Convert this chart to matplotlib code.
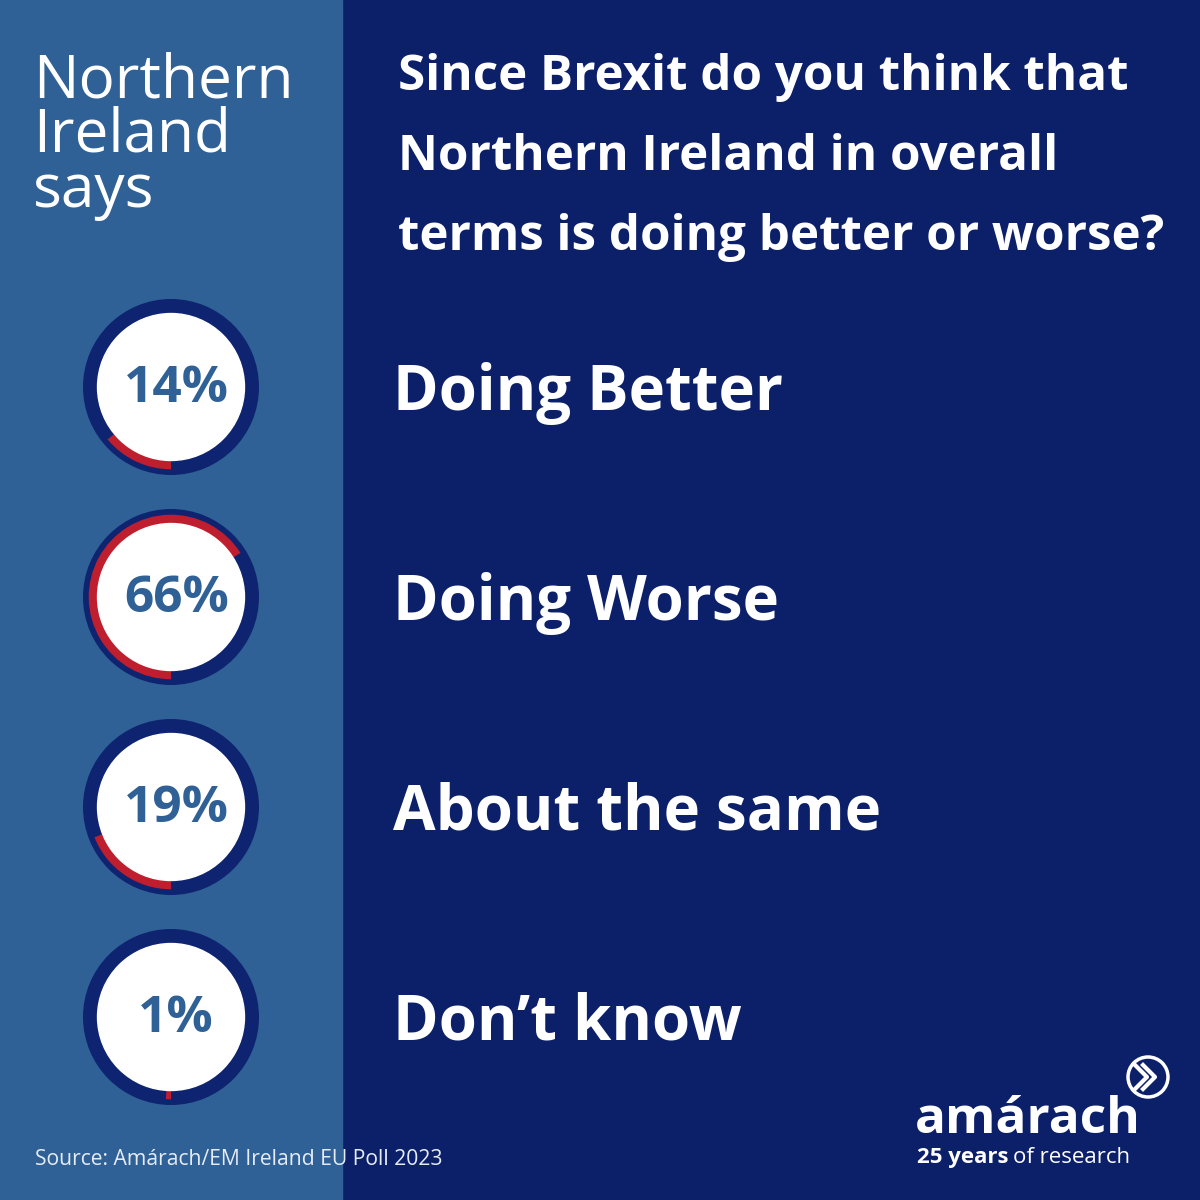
import matplotlib
matplotlib.use("Agg")
from matplotlib import pyplot as plt
from matplotlib.patches import Rectangle, Circle

# data
answers = ["Doing Better", "Doing Worse", "About the same", "Don\u2019t know"]
shares = [14, 66, 19, 1]
pct_labels = ["14%", "66%", "19%", "1%"]

title_lines = ["Since Brexit do you think that", "Northern Ireland in overall",
               "terms is doing better or worse?"]
side_lines = ["Northern", "Ireland", "says"]
source = "Source: Am\u00e1rach/EM Ireland EU Poll 2023"

# colours
steel = "#2f6096"
navy = "#0c206a"
ring = "#0e2470"
red = "#be1e2d"

plt.rcParams["font.family"] = ["Open Sans", "DejaVu Sans"]

fig = plt.figure(figsize=(12, 12), dpi=100)
bg = fig.add_axes([0, 0, 1, 1])
bg.set_xlim(0, 1200)
bg.set_ylim(1200, 0)
bg.axis("off")
bg.add_patch(Rectangle((0, 0), 1200, 1200, color=navy, zorder=0))
bg.add_patch(Rectangle((0, 0), 342, 1200, color=steel, zorder=1))

for k, line in enumerate(side_lines):
    bg.text(33, 97 + 55 * k, line, color="white", fontsize=43.5,
            va="baseline", ha="left")
for k, line in enumerate(title_lines):
    bg.text(398, 90 + 80 * k, line, color="white", fontsize=35.5,
            fontweight="bold", va="baseline", ha="left")
bg.text(35, 1165, source, color="#e6ecf5", fontsize=15.2, va="baseline")

# logo
bg.text(915, 1133, "am\u00e1rach", color="white", fontsize=37, fontweight="bold",
        va="baseline")
bg.text(917, 1163, "25 years", color="white", fontsize=16, fontweight="bold",
        va="baseline")
bg.text(1013, 1163, "of research", color="white", fontsize=16, va="baseline")
bg.add_patch(Circle((1148, 1077), 20, fill=False, ec="white", lw=2.5, zorder=3))
for dx in (-8, 0):
    bg.plot([1143 + dx, 1155 + dx, 1143 + dx], [1065, 1077, 1089],
            color="white", lw=3, zorder=3)

# donuts
centers_y = [387, 597, 807, 1017]
cx = 171
r_out = 88
for i, (ans, val, lab) in enumerate(zip(answers, shares, pct_labels)):
    cy = centers_y[i]
    ax = fig.add_axes([(cx - r_out) / 1200, 1 - (cy + r_out) / 1200,
                       2 * r_out / 1200, 2 * r_out / 1200])
    ax.pie([1], colors=[ring], radius=1.0, wedgeprops=dict(width=1.0))
    ax.pie([val, 100 - val], colors=[red, "none"], radius=0.935,
           startangle=270, counterclock=False,
           wedgeprops=dict(width=0.1, linewidth=0))
    ax.add_patch(Circle((0, 0), 0.835, color="white", zorder=5))
    ax.text(0.06, -0.02, lab, color=steel, fontsize=37, fontweight="bold",
            ha="center", va="center", zorder=6)
    ax.set_xlim(-1, 1)
    ax.set_ylim(-1, 1)
    ax.set_aspect("equal")
    ax.axis("off")

    bg.text(393, cy + 23, ans, color="white", fontsize=44.5, fontweight="bold",
            va="baseline", ha="left")

fig.savefig("out.png", dpi=100)
